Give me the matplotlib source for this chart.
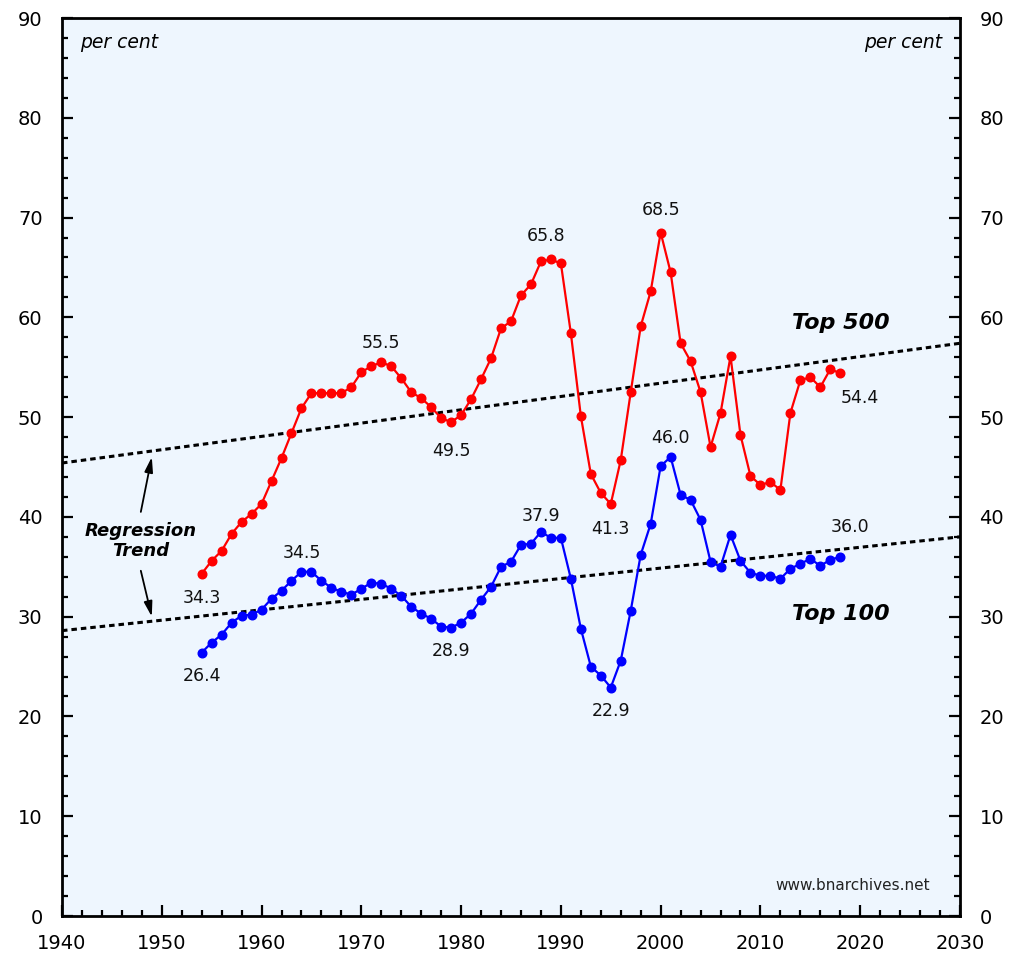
import numpy as np
import matplotlib.pyplot as plt
from matplotlib.ticker import MultipleLocator

# data
years = np.arange(1954, 2019)
top500 = [34.3, 35.6, 36.6, 38.3, 39.5, 40.3, 41.3, 43.6, 45.9, 48.4,
          50.9, 52.4, 52.4, 52.4, 52.4, 53.0, 54.5, 55.1, 55.5, 55.1,
          53.9, 52.5, 51.9, 51.0, 49.9, 49.5, 50.2, 51.8, 53.8, 55.9,
          58.9, 59.6, 62.2, 63.3, 65.6, 65.8, 65.4, 58.4, 50.1, 44.3,
          42.4, 41.3, 45.7, 52.5, 59.1, 62.6, 68.5, 64.5, 57.4, 55.6,
          52.5, 47.0, 50.4, 56.1, 48.2, 44.1, 43.2, 43.5, 42.7, 50.4,
          53.7, 54.0, 53.0, 54.8, 54.4]
top100 = [26.4, 27.4, 28.2, 29.4, 30.1, 30.2, 30.7, 31.8, 32.6, 33.6,
          34.5, 34.5, 33.6, 32.9, 32.5, 32.2, 32.8, 33.4, 33.3, 32.8,
          32.1, 31.0, 30.3, 29.8, 29.0, 28.9, 29.4, 30.3, 31.7, 33.0,
          35.0, 35.5, 37.2, 37.3, 38.5, 37.9, 37.9, 33.8, 28.8, 25.0,
          24.1, 22.9, 25.6, 30.6, 36.2, 39.3, 45.1, 46.0, 42.2, 41.7,
          39.7, 35.5, 35.0, 38.2, 35.6, 34.4, 34.1, 34.1, 33.8, 34.8,
          35.3, 35.8, 35.1, 35.7, 36.0]

trend_years = [1940, 2030]
trend500 = [45.4, 57.4]
trend100 = [28.6, 38.0]

# labels: (year, text, dx px, dy px) offsets from the point
labels500 = [(1954, "34.3", 0, -24), (1972, "55.5", 0, 19), (1979, "49.5", 0, -29),
             (1989, "65.8", -5, 23), (1995, "41.3", 0, -25), (2000, "68.5", 0, 23),
             (2018, "54.4", 20, -25)]
labels100 = [(1954, "26.4", 0, -23), (1964, "34.5", 0, 19), (1979, "28.9", 0, -23),
             (1989, "37.9", -10, 22), (1995, "22.9", 0, -23), (2001, "46.0", 0, 19),
             (2018, "36.0", 10, 30)]

fig = plt.figure(figsize=(10.1, 9.56), dpi=100)
ax = fig.add_axes([62/1010, 1-916/956, 898/1010, 898/956])
ax.set_facecolor('#eef6fe')

ax.plot(trend_years, trend500, color='black', lw=2.2, ls=(0, (1.8, 1.3)))
ax.plot(trend_years, trend100, color='black', lw=2.2, ls=(0, (1.8, 1.3)))

ax.plot(years, top500, color='#ff0000', lw=1.6, marker='o', ms=6.2)
ax.plot(years, top100, color='#0000ff', lw=1.6, marker='o', ms=6.2)

def put_labels(series, specs):
    for yr, txt, dx, dy in specs:
        val = series[yr - years[0]]
        ax.annotate(txt, xy=(yr, val), xytext=(dx*0.72, dy*0.72),
                    textcoords='offset points', ha='center', va='center',
                    fontsize=12.5, color='#111111')

put_labels(top500, labels500)
put_labels(top100, labels100)

ax.text(2018.1, 59.4, "Top 500", fontsize=16, fontweight='bold', style='italic',
        ha='center', va='center')
ax.text(2018.1, 30.3, "Top 100", fontsize=16, fontweight='bold', style='italic',
        ha='center', va='center')
ax.text(1947.9, 37.6, "Regression\nTrend", fontsize=13, fontweight='bold',
        style='italic', ha='center', va='center', linespacing=1.15)
ax.annotate("", xy=(1949.0, 46.0), xytext=(1947.9, 40.5),
            arrowprops=dict(arrowstyle='-|>,head_length=0.9,head_width=0.25',
                            color='black', lw=1.3, shrinkA=0, shrinkB=0))
ax.annotate("", xy=(1949.0, 30.0), xytext=(1947.9, 34.6),
            arrowprops=dict(arrowstyle='-|>,head_length=0.9,head_width=0.25',
                            color='black', lw=1.3, shrinkA=0, shrinkB=0))

ax.text(1941.8, 87.5, "per cent", fontsize=13.5, style='italic', ha='left', va='center')
ax.text(2028.2, 87.5, "per cent", fontsize=13.5, style='italic', ha='right', va='center')
ax.text(2019.2, 3.1, "www.bnarchives.net", fontsize=11, ha='center', va='center',
        color='#222222')

ax.set_xlim(1940, 2030)
ax.set_ylim(0, 90)
ax.xaxis.set_major_locator(MultipleLocator(10))
ax.xaxis.set_minor_locator(MultipleLocator(2))
ax.yaxis.set_major_locator(MultipleLocator(10))
ax.yaxis.set_minor_locator(MultipleLocator(2))
ax.tick_params(which='both', direction='in', top=False, right=True,
               labelright=True, labelsize=14, width=1.6)
ax.tick_params(which='major', length=8)
ax.tick_params(which='minor', length=4.5)
ax.tick_params(axis='y', which='major', pad=14)
ax.tick_params(axis='x', which='major', pad=13)
for s in ax.spines.values():
    s.set_linewidth(2)

fig.savefig("out.png", dpi=100)
